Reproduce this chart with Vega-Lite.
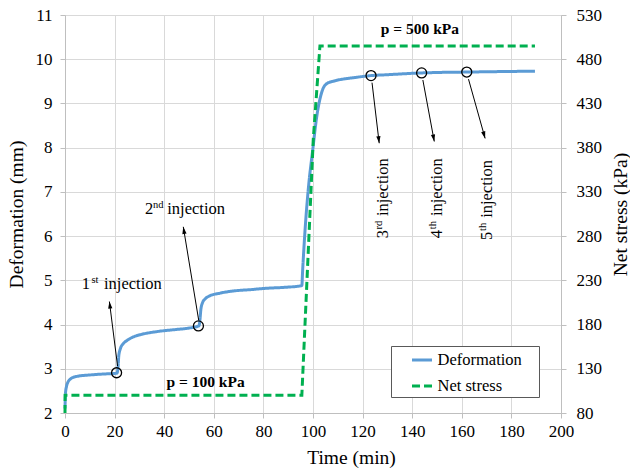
{
  "$schema": "https://vega.github.io/schema/vega-lite/v6.json",
  "width": 496,
  "height": 398,
  "autosize": "none",
  "padding": {"left": 65, "top": 15, "right": 69, "bottom": 60},
  "background": "white",
  "config": {
    "view": {"stroke": null},
    "font": "Liberation Serif",
    "axis": {
      "labelFont": "Liberation Serif", "labelFontSize": 17, "labelColor": "black", "labelFlush": false, "labelOverlap": false,
      "titleFont": "Liberation Serif", "titleFontSize": 19.5, "titleFontWeight": "normal", "titleColor": "black",
      "domainColor": "#bfbfbf", "tickColor": "#bfbfbf", "gridColor": "#d9d9d9", "tickSize": 5
    },
    "text": {"font": "Liberation Serif", "color": "black"}
  },
  "datasets": {
    "deform": [
      {"t": 0, "d": 2.1}, {"t": 0.2, "d": 2.45}, {"t": 0.6, "d": 2.6}, {"t": 1.2, "d": 2.7}, {"t": 2, "d": 2.76},
      {"t": 3, "d": 2.8}, {"t": 5, "d": 2.83}, {"t": 10, "d": 2.86}, {"t": 15, "d": 2.88}, {"t": 21, "d": 2.9},
      {"t": 21.4, "d": 3.05}, {"t": 21.7, "d": 3.3}, {"t": 22.3, "d": 3.45}, {"t": 23.5, "d": 3.57}, {"t": 25, "d": 3.64},
      {"t": 27.5, "d": 3.72}, {"t": 31, "d": 3.78}, {"t": 37, "d": 3.84}, {"t": 45, "d": 3.89}, {"t": 50, "d": 3.92},
      {"t": 54, "d": 3.97}, {"t": 54.4, "d": 4.1}, {"t": 54.8, "d": 4.35}, {"t": 55.5, "d": 4.5}, {"t": 56.5, "d": 4.58},
      {"t": 58, "d": 4.64}, {"t": 62.5, "d": 4.71}, {"t": 68, "d": 4.76}, {"t": 75, "d": 4.79}, {"t": 81, "d": 4.82},
      {"t": 88, "d": 4.84}, {"t": 95.5, "d": 4.88}, {"t": 95.8, "d": 5.2}, {"t": 96.2, "d": 5.6}, {"t": 96.8, "d": 6.14},
      {"t": 98, "d": 7.0}, {"t": 100, "d": 8.0}, {"t": 101.5, "d": 8.7}, {"t": 102.8, "d": 9.1}, {"t": 103.8, "d": 9.3},
      {"t": 105.6, "d": 9.45}, {"t": 108, "d": 9.5}, {"t": 112, "d": 9.55}, {"t": 116, "d": 9.58}, {"t": 123.4, "d": 9.63},
      {"t": 130, "d": 9.65}, {"t": 143.8, "d": 9.69}, {"t": 150, "d": 9.7}, {"t": 162, "d": 9.71}, {"t": 175, "d": 9.72},
      {"t": 189.5, "d": 9.73}
    ],
    "stress": [
      {"t": 0, "s": 80}, {"t": 0.05, "s": 100}, {"t": 95.5, "s": 100}, {"t": 100.1, "s": 389}, {"t": 102.8, "s": 495}, {"t": 189.5, "s": 495}
    ],
    "circles": [
      {"t": 20.8, "d": 2.91}, {"t": 53.8, "d": 3.97}, {"t": 123.4, "d": 9.63}, {"t": 143.8, "d": 9.69}, {"t": 162, "d": 9.71}
    ],
    "arrows": [
      {"t": 21.2, "d": 3.06, "t2": 17.9, "d2": 4.52, "angle": 352.7},
      {"t": 53.9, "d": 4.1, "t2": 47.7, "d2": 6.21, "angle": 350.6},
      {"t": 123.8, "d": 9.47, "t2": 126.7, "d2": 8.1, "angle": 173.2},
      {"t": 144.3, "d": 9.53, "t2": 148.9, "d2": 8.14, "angle": 169.5},
      {"t": 162.7, "d": 9.55, "t2": 169.4, "d2": 8.21, "angle": 164.3}
    ],
    "ann": [
      {"t": 12.1, "d": 4.81, "num": "1", "sup": "st", "rest": "injection", "o": "h"},
      {"t": 37.6, "d": 6.5, "num": "2", "sup": "nd", "rest": "injection", "o": "h"},
      {"t": 130.2, "d": 6.25, "num": "3", "sup": "rd", "rest": "injection", "o": "v"},
      {"t": 152, "d": 6.25, "num": "4", "sup": "th", "rest": "injection", "o": "v"},
      {"t": 172, "d": 6.21, "num": "5", "sup": "th", "rest": "injection", "o": "v"}
    ],
    "plabels": [
      {"t": 143.1, "d": 10.68, "label": "p = 500 kPa"},
      {"t": 56.7, "d": 2.7, "label": "p = 100 kPa"}
    ]
  },
  "layer": [
    {
      "layer": [
        {
          "data": {"name": "deform"},
          "mark": {"type": "line", "strokeWidth": 3, "interpolate": "monotone"},
          "encoding": {
            "x": {"field": "t", "type": "quantitative", "scale": {"domain": [0, 200], "nice": false},
              "axis": {"values": [0, 20, 40, 60, 80, 100, 120, 140, 160, 180, 200], "title": "Time (min)", "grid": true, "labelPadding": 5, "titlePadding": 9, "titleX": 286}},
            "y": {"field": "d", "type": "quantitative", "scale": {"domain": [2, 11], "nice": false, "zero": false},
              "axis": {"values": [2, 3, 4, 5, 6, 7, 8, 9, 10, 11], "title": "Deformation (mm)", "grid": true, "labelPadding": 8, "titlePadding": 9}},
            "color": {"datum": "Deformation", "type": "nominal",
              "scale": {"domain": ["Deformation", "Net stress"], "range": ["#5B9BD5", "#00B050"]},
              "legend": {"orient": "none", "legendX": 326, "legendY": 331, "title": "_", "titleOrient": "right", "titleColor": "rgba(0,0,0,0)", "titleFontSize": 12, "titlePadding": 9, "strokeColor": "#595959", "fillColor": "white", "padding": 2.5, "symbolType": "stroke", "symbolSize": 400, "symbolStrokeWidth": 3, "labelFont": "Liberation Serif", "labelFontSize": 16.5, "labelColor": "black", "rowPadding": 6, "symbolOffset": 17, "labelOffset": 4}},
            "strokeDash": {"datum": "Deformation", "type": "nominal",
              "scale": {"domain": ["Deformation", "Net stress"], "range": [[1, 0], [8, 4]]},
              "legend": {"orient": "none", "legendX": 326, "legendY": 331, "title": "_", "titleOrient": "right", "titleColor": "rgba(0,0,0,0)", "titleFontSize": 12, "titlePadding": 9, "strokeColor": "#595959", "fillColor": "white", "padding": 2.5, "symbolType": "stroke", "symbolSize": 400, "symbolStrokeWidth": 3, "labelFont": "Liberation Serif", "labelFontSize": 16.5, "labelColor": "black", "rowPadding": 6, "symbolOffset": 17, "labelOffset": 4}}
          }
        },
        {
          "data": {"name": "arrows"},
          "mark": {"type": "rule", "color": "black", "strokeWidth": 1},
          "encoding": {
            "x": {"field": "t", "type": "quantitative"},
            "y": {"field": "d", "type": "quantitative"},
            "x2": {"field": "t2"},
            "y2": {"field": "d2"}
          }
        },
        {
          "data": {"name": "arrows"},
          "mark": {"type": "point", "shape": "M0,0L-0.3,1L0.3,1Z", "filled": true, "color": "black", "size": 200, "opacity": 1},
          "encoding": {
            "x": {"field": "t2", "type": "quantitative"},
            "y": {"field": "d2", "type": "quantitative"},
            "angle": {"field": "angle", "type": "quantitative", "scale": null}
          }
        },
        {
          "data": {"name": "circles"},
          "mark": {"type": "point", "shape": "circle", "filled": false, "stroke": "black", "strokeWidth": 1.3, "size": 100, "opacity": 1},
          "encoding": {
            "x": {"field": "t", "type": "quantitative"},
            "y": {"field": "d", "type": "quantitative"}
          }
        },
        {
          "data": {"name": "plabels"},
          "mark": {"type": "text", "fontWeight": "bold", "fontSize": 15.5, "align": "center", "baseline": "middle"},
          "encoding": {
            "x": {"field": "t", "type": "quantitative"},
            "y": {"field": "d", "type": "quantitative"},
            "text": {"field": "label"}
          }
        },
        {
          "data": {"name": "ann"},
          "transform": [{"filter": "datum.o == 'h'"}],
          "encoding": {
            "x": {"field": "t", "type": "quantitative"},
            "y": {"field": "d", "type": "quantitative"}
          },
          "layer": [
            {"mark": {"type": "text", "align": "right", "baseline": "alphabetic", "dx": -5, "fontSize": 16.5}, "encoding": {"text": {"field": "num"}}},
            {"mark": {"type": "text", "align": "center", "baseline": "alphabetic", "dy": -6, "fontSize": 10.5}, "encoding": {"text": {"field": "sup"}}},
            {"mark": {"type": "text", "align": "left", "baseline": "alphabetic", "dx": 9, "fontSize": 16.5}, "encoding": {"text": {"field": "rest"}}}
          ]
        },
        {
          "data": {"name": "ann"},
          "transform": [{"filter": "datum.o == 'v'"}],
          "encoding": {
            "x": {"field": "t", "type": "quantitative"},
            "y": {"field": "d", "type": "quantitative"}
          },
          "layer": [
            {"mark": {"type": "text", "angle": 270, "align": "right", "baseline": "alphabetic", "dx": -5, "fontSize": 16.5}, "encoding": {"text": {"field": "num"}}},
            {"mark": {"type": "text", "angle": 270, "align": "center", "baseline": "alphabetic", "dy": -6, "fontSize": 10.5}, "encoding": {"text": {"field": "sup"}}},
            {"mark": {"type": "text", "angle": 270, "align": "left", "baseline": "alphabetic", "dx": 9, "fontSize": 16.5}, "encoding": {"text": {"field": "rest"}}}
          ]
        }
      ]
    },
    {
      "data": {"name": "stress"},
      "mark": {"type": "line", "strokeWidth": 3},
      "encoding": {
        "x": {"field": "t", "type": "quantitative"},
        "y": {"field": "s", "type": "quantitative", "scale": {"domain": [80, 530], "nice": false, "zero": false},
          "axis": {"orient": "right", "values": [80, 130, 180, 230, 280, 330, 380, 430, 480, 530], "title": "Net stress (kPa)", "grid": false, "labelPadding": 10, "titlePadding": 10, "titleAngle": 270, "titleBaseline": "top"}},
        "color": {"datum": "Net stress", "type": "nominal"},
        "strokeDash": {"datum": "Net stress", "type": "nominal"}
      }
    }
  ],
  "resolve": {"scale": {"y": "independent"}}
}
